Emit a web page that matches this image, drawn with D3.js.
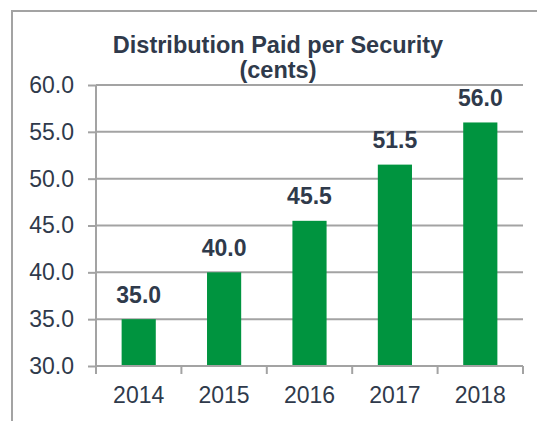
<!DOCTYPE html>
<html><head><meta charset="utf-8">
<script src="https://cdn.jsdelivr.net/npm/d3@7"></script>
<style>html,body{margin:0;padding:0;background:#fff;}svg{display:block;}</style>
</head><body>
<svg id="chart" width="537" height="421"></svg>
<script>
const categories = ["2014","2015","2016","2017","2018"];
const values = [35.0, 40.0, 45.5, 51.5, 56.0];
const yTicks = [30,35,40,45,50,55,60];
const titleLines = ["Distribution Paid per Security","(cents)"];

const svg = d3.select("#chart");
const W = 537, H = 421;
const m = {left:96, right:14, top:85, bottom:55};
const textColor = "#2F3A4B", gridColor = "#A3A3A3", barColor = "#00943F";
const font = "'Liberation Sans', Arial, sans-serif";

// frame lines
svg.append("line").attr("x1",12).attr("x2",W).attr("y1",11).attr("y2",11).attr("stroke",gridColor).attr("stroke-width",2);
svg.append("line").attr("x1",12).attr("x2",12).attr("y1",10).attr("y2",H).attr("stroke",gridColor).attr("stroke-width",2);

const x = d3.scaleBand().domain(categories).range([m.left, W-m.right]).paddingInner(0.6).paddingOuter(0.3);
const y = d3.scaleLinear().domain([30,60]).range([H-m.bottom, m.top]);

// gridlines
svg.append("g").selectAll("line").data(yTicks.slice(1)).join("line")
  .attr("x1",m.left).attr("x2",W-m.right)
  .attr("y1",d=>y(d)).attr("y2",d=>y(d))
  .attr("stroke",gridColor).attr("stroke-width",2);

// y axis
const yAxis = svg.append("g").attr("transform",`translate(${m.left},0)`)
  .call(d3.axisLeft(y).tickValues(yTicks).tickFormat(d3.format(".1f")).tickSize(8).tickPadding(14));
yAxis.select(".domain").attr("stroke",gridColor).attr("stroke-width",2).attr("d",`M0,${y(60)}V${y(30)}`);
yAxis.selectAll(".tick line").attr("stroke",gridColor).attr("stroke-width",2);
yAxis.selectAll(".tick text").attr("fill",textColor).style("font-family",font).style("font-size","23px");

// bars
svg.append("g").selectAll("rect").data(values).join("rect")
  .attr("x",(d,i)=>x(categories[i])).attr("width",x.bandwidth())
  .attr("y",d=>y(d)).attr("height",d=>y(30)-y(d))
  .attr("fill",barColor);

// x axis
const xs = d3.scaleLinear().domain([0,categories.length]).range([m.left, W-m.right]);
const xAxisG = svg.append("g").attr("transform",`translate(0,${y(30)})`);
xAxisG.append("line").attr("x1",m.left).attr("x2",W-m.right).attr("stroke",gridColor).attr("stroke-width",2);
xAxisG.selectAll(".tk").data(d3.range(categories.length+1)).join("line")
  .attr("x1",d=>xs(d)).attr("x2",d=>xs(d)).attr("y1",0).attr("y2",8)
  .attr("stroke",gridColor).attr("stroke-width",2);
xAxisG.selectAll("text").data(categories).join("text")
  .attr("x",d=>x(d)+x.bandwidth()/2).attr("y",36.5)
  .attr("text-anchor","middle").attr("fill",textColor)
  .style("font-family",font).style("font-size","23px").text(d=>d);

// value labels
svg.append("g").selectAll("text").data(values).join("text")
  .attr("x",(d,i)=>x(categories[i])+x.bandwidth()/2).attr("y",d=>y(d)-16.5)
  .attr("text-anchor","middle").attr("fill",textColor)
  .style("font-family",font).style("font-size","23px").style("font-weight","bold")
  .text(d=>d3.format(".1f")(d));

// title
svg.append("g").selectAll("text").data(titleLines).join("text")
  .attr("x",278).attr("y",(d,i)=>53+i*25)
  .attr("text-anchor","middle").attr("fill",textColor)
  .style("font-family",font).style("font-size","23.5px").style("font-weight","bold")
  .text(d=>d);
</script>
</body></html>
